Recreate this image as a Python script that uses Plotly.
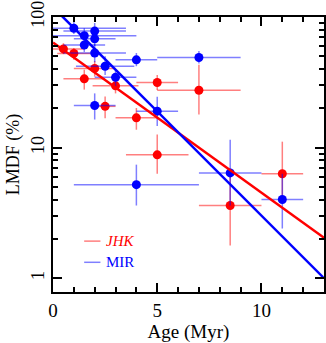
import plotly.graph_objects as go

# ---- data ----
mir_age = [1.0, 1.5, 2.0, 2.0, 1.5, 2.0, 2.5, 3.0, 4.0, 2.0, 5.0, 7.0, 4.0, 8.5, 11.0]
mir_lmdf = [82, 72, 78, 68, 61, 53, 42, 34.5, 47, 21, 19, 49, 5.2, 6.4, 4.0]
mir_age_err = [2.5, 2.5, 1.5, 1.0, 1.0, 1.5, 1.4, 1.0, 1.0, 1.0, 1.0, 2.0, 3.0, 1.5, 1.0]
mir_hi = [92, 82, 90, 78, 70, 62, 50, 40, 53, 26, 24.5, 55, 7.4, 11.5, 6.3]
mir_lo = [74, 64, 70, 60, 54, 45, 36, 29, 42, 16.4, 14.6, 44, 3.6, 3.6, 2.4]

jhk_age = [0.5, 1.0, 2.0, 1.5, 3.0, 2.5, 4.0, 5.0, 5.0, 7.0, 8.5, 11.0]
jhk_lmdf = [57, 52.6, 40.4, 33.6, 29.7, 20.7, 16.9, 31.5, 8.8, 27.5, 3.6, 6.3]
jhk_age_err = [1.0, 0.8, 1.0, 1.0, 1.1, 0.5, 1.0, 1.0, 1.5, 2.0, 1.5, 1.0]
jhk_hi = [63, 58, 46, 39.5, 34, 24.6, 20.1, 35.9, 12.6, 43, 6.4, 11.1]
jhk_lo = [52, 47, 35, 27.8, 26, 16.8, 13.7, 27.6, 6.3, 17.9, 1.78, 4.0]

fit_age = [0, 13]
fit_jhk = [63.8, 2.04]
fit_mir = [119, 1.0]

RED = "#ff0000"
BLUE = "#0000ff"
RED_E = "rgba(255,0,0,0.5)"
BLUE_E = "rgba(0,0,255,0.5)"
FONT = "Liberation Serif"

fig = go.Figure()

def pts(x, y, xe, hi, lo, color, ecolor, name):
    return go.Scatter(
        x=x, y=y, mode="markers", name=name, showlegend=False,
        marker=dict(color=color, size=9),
        error_x=dict(type="data", array=xe, color=ecolor, thickness=1.5, width=0),
        error_y=dict(type="data", array=[h - v for h, v in zip(hi, y)],
                     arrayminus=[v - l for l, v in zip(lo, y)],
                     symmetric=False, color=ecolor, thickness=1.5, width=0),
    )

fig.add_trace(pts(jhk_age, jhk_lmdf, jhk_age_err, jhk_hi, jhk_lo, RED, RED_E, "JHK"))
fig.add_trace(pts(mir_age, mir_lmdf, mir_age_err, mir_hi, mir_lo, BLUE, BLUE_E, "MIR"))
fig.add_trace(go.Scatter(x=fit_age, y=fit_jhk, mode="lines", line=dict(color=RED, width=2.5), showlegend=False))
fig.add_trace(go.Scatter(x=fit_age, y=fit_mir, mode="lines", line=dict(color=BLUE, width=2.5), showlegend=False))

# legend (drawn manually)
for yy, txt, col, ecol in [(0.185, "<i>JHK</i>", RED, RED_E), (0.108, "MIR", BLUE, BLUE_E)]:
    fig.add_shape(type="line", xref="x domain", yref="y domain", x0=0.115, x1=0.175, y0=yy, y1=yy,
                  line=dict(color=ecol, width=1.5))
    fig.add_annotation(xref="x domain", yref="y domain", x=0.19, y=yy, text=txt, showarrow=False,
                       xanchor="left", yanchor="middle", font=dict(family=FONT, size=15, color=col))

axis_common = dict(showline=True, linecolor="black", linewidth=1.5, mirror="allticks",
                   ticks="inside", tickcolor="black", tickwidth=1.5, ticklen=9,
                   showgrid=False, zeroline=False, automargin=False, ticklabeloverflow="allow")

fig.update_xaxes(**axis_common, range=[0, 13], tickvals=[0, 5, 10],
                 tickfont=dict(family=FONT, size=19, color="black"),
                 minor=dict(ticks="inside", ticklen=5, tickwidth=1.5, tickcolor="black", dtick=1),
                 title=dict(text="Age (Myr)", font=dict(family=FONT, size=19, color="black"), standoff=8))
fig.update_yaxes(**axis_common, type="log", range=[-0.106, 2.0], tickvals=[1, 10, 100],
                 ticktext=["1", "10", "100"], tickangle=-90,
                 tickfont=dict(family=FONT, size=18, color="black"),
                 minor=dict(ticks="inside", ticklen=5, tickwidth=1.5, tickcolor="black",
                            tickvals=[2, 3, 4, 5, 6, 7, 8, 9, 20, 30, 40, 50, 60, 70, 80, 90]),
                 title=dict(text="LMDF (%)", font=dict(family=FONT, size=18, color="black"), standoff=4))

fig.update_layout(width=326, height=343, margin=dict(l=53, r=2, t=17, b=51),
                  plot_bgcolor="white", paper_bgcolor="white")

fig.write_html("out.html", config={"displayModeBar": False},
               post_script="document.body.style.margin='0';document.body.style.overflow='hidden';")
